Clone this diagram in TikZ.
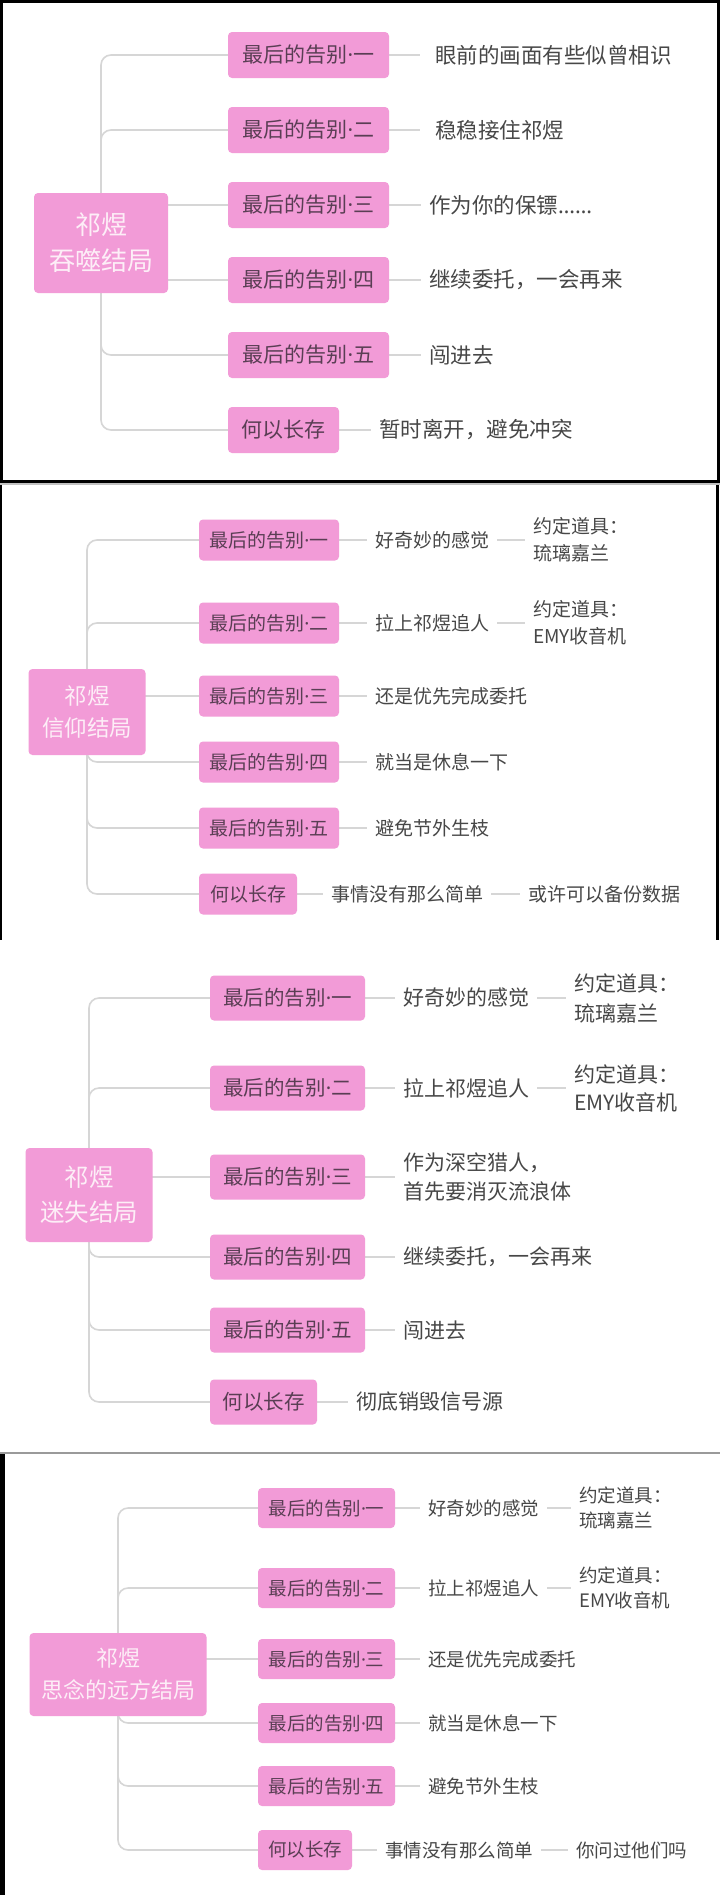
\documentclass[tikz,border=0pt]{standalone}
\usepackage{fontspec}
\setmainfont{Noto Sans CJK SC}
\newfontfamily\latf{Noto Sans}
\newcommand{\mydotx}{{\latf ·}}
\definecolor{pk}{HTML}{F29BD7}
\definecolor{btxt}{HTML}{5A3E54}
\definecolor{ltxt}{HTML}{474747}
\definecolor{lgray}{HTML}{D6D6D6}
\definecolor{rtxt}{HTML}{FDEEF7}
\definecolor{sepgray}{HTML}{9A9A9A}
\pgfdeclarelayer{bg}
\pgfsetlayers{bg,main}
\begin{document}
\begin{tikzpicture}[x=1pt,y=-1pt,
  rootbox/.style={fill=pk, rounded corners=4pt, text=rtxt, align=center, inner sep=0pt},
  brbox/.style={fill=pk, rounded corners=4pt, text=btxt, inner sep=0pt},
  leaf/.style={text=ltxt, anchor=west, align=left, inner xsep=8pt, inner ysep=0pt},
  ln/.style={draw=lgray, line width=1.6pt},
  trunk/.style={ln, rounded corners=10pt},
  fa/.style={font=\fontsize{21}{26}\selectfont},
  fal/.style={font=\fontsize{21.5}{28}\selectfont},
  fb/.style={font=\fontsize{19}{27}\selectfont},
  fc/.style={font=\fontsize{20.5}{28}\selectfont},
  fcl/.style={font=\fontsize{21}{29}\selectfont},
  fd/.style={font=\fontsize{18.5}{25.5}\selectfont}]
\useasboundingbox (0,0) rectangle (720,1895);
\begin{pgfonlayer}{bg}
\fill[white] (0,0) rectangle (720,1895);
\end{pgfonlayer}

% ---------- Panel 1 ----------
\node[rootbox, minimum width=134pt, minimum height=100pt, font=\fontsize{26}{36}\selectfont] (p1r) at (101,243) {祁煜\\吞噬结局};
\node[brbox, fa, minimum width=161pt, minimum height=46pt] (p1b1) at (308.5,55) {最后的告别\mydotx 一};
\node[brbox, fa, minimum width=161pt, minimum height=46pt] (p1b2) at (308.5,130) {最后的告别\mydotx 二};
\node[brbox, fa, minimum width=161pt, minimum height=46pt] (p1b3) at (308.5,205) {最后的告别\mydotx 三};
\node[brbox, fa, minimum width=161pt, minimum height=46pt] (p1b4) at (308.5,280) {最后的告别\mydotx 四};
\node[brbox, fa, minimum width=161pt, minimum height=46pt] (p1b5) at (308.5,355) {最后的告别\mydotx 五};
\node[brbox, fa, minimum width=111pt, minimum height=46pt] (p1b6) at (283.5,430) {何以长存};
\node[leaf, fal, inner xsep=15pt] (p1l1) at (420,55) {眼前的画面有些似曾相识};
\node[leaf, fal, inner xsep=15pt] (p1l2) at (420,130) {稳稳接住祁煜};
\node[leaf, fal] (p1l3) at (421,205) {作为你的保镖{\latf ……}};
\node[leaf, fal] (p1l4) at (421,280) {继续委托，一会再来};
\node[leaf, fal] (p1l5) at (421,355) {闯进去};
\node[leaf, fal] (p1l6) at (371,430) {暂时离开，避免冲突};

% ---------- Panel 2 ----------
\node[rootbox, minimum width=117pt, minimum height=86pt, font=\fontsize{22.5}{32}\selectfont] (p2r) at (87,712) {祁煜\\信仰结局};
\node[brbox, fb, minimum width=140pt, minimum height=41pt] (p2b1) at (269,540) {最后的告别\mydotx 一};
\node[brbox, fb, minimum width=140pt, minimum height=41pt] (p2b2) at (269,623) {最后的告别\mydotx 二};
\node[brbox, fb, minimum width=140pt, minimum height=41pt] (p2b3) at (269,696) {最后的告别\mydotx 三};
\node[brbox, fb, minimum width=140pt, minimum height=41pt] (p2b4) at (269,762) {最后的告别\mydotx 四};
\node[brbox, fb, minimum width=140pt, minimum height=41pt] (p2b5) at (269,828) {最后的告别\mydotx 五};
\node[brbox, fb, minimum width=98pt, minimum height=41pt] (p2b6) at (248,894) {何以长存};
\node[leaf, fb] (p2l1) at (367,540) {好奇妙的感觉};
\node[leaf, fb] (p2m1) at (525,540) {约定道具：\\琉璃嘉兰};
\node[leaf, fb] (p2l2) at (367,623) {拉上祁煜追人};
\node[leaf, fb] (p2m2) at (525,623) {约定道具：\\EMY收音机};
\node[leaf, fb] (p2l3) at (367,696) {还是优先完成委托};
\node[leaf, fb] (p2l4) at (367,762) {就当是休息一下};
\node[leaf, fb] (p2l5) at (367,828) {避免节外生枝};
\node[leaf, fb] (p2l6) at (323,894) {事情没有那么简单};
\node[leaf, fb] (p2m6) at (520,894) {或许可以备份数据};

% ---------- Panel 3 ----------
\node[rootbox, minimum width=127pt, minimum height=94pt, font=\fontsize{24.5}{35}\selectfont] (p3r) at (89,1195) {祁煜\\迷失结局};
\node[brbox, fc, minimum width=155pt, minimum height=45pt] (p3b1) at (287.5,998) {最后的告别\mydotx 一};
\node[brbox, fc, minimum width=155pt, minimum height=45pt] (p3b2) at (287.5,1088) {最后的告别\mydotx 二};
\node[brbox, fc, minimum width=155pt, minimum height=45pt] (p3b3) at (287.5,1177) {最后的告别\mydotx 三};
\node[brbox, fc, minimum width=155pt, minimum height=45pt] (p3b4) at (287.5,1257) {最后的告别\mydotx 四};
\node[brbox, fc, minimum width=155pt, minimum height=45pt] (p3b5) at (287.5,1330) {最后的告别\mydotx 五};
\node[brbox, fc, minimum width=107pt, minimum height=45pt] (p3b6) at (263.5,1402) {何以长存};
\node[leaf, fcl] (p3l1) at (395,998) {好奇妙的感觉};
\node[leaf, fcl, font=\fontsize{21}{30}\selectfont] (p3m1) at (566,998) {约定道具：\\琉璃嘉兰};
\node[leaf, fcl] (p3l2) at (395,1088) {拉上祁煜追人};
\node[leaf, fcl, font=\fontsize{21}{28}\selectfont] (p3m2) at (566,1088) {约定道具：\\EMY收音机};
\node[leaf, fcl] (p3l3) at (395,1177) {作为深空猎人，\\首先要消灭流浪体};
\node[leaf, fcl] (p3l4) at (395,1257) {继续委托，一会再来};
\node[leaf, fcl] (p3l5) at (395,1330) {闯进去};
\node[leaf, fcl] (p3l6) at (348,1402) {彻底销毁信号源};

% ---------- Panel 4 ----------
\node[rootbox, minimum width=177pt, minimum height=83pt, font=\fontsize{22}{32}\selectfont] (p4r) at (118,1674.5) {祁煜\\思念的远方结局};
\node[brbox, fd, minimum width=137pt, minimum height=40pt] (p4b1) at (326.5,1508) {最后的告别\mydotx 一};
\node[brbox, fd, minimum width=137pt, minimum height=40pt] (p4b2) at (326.5,1588) {最后的告别\mydotx 二};
\node[brbox, fd, minimum width=137pt, minimum height=40pt] (p4b3) at (326.5,1659) {最后的告别\mydotx 三};
\node[brbox, fd, minimum width=137pt, minimum height=40pt] (p4b4) at (326.5,1723) {最后的告别\mydotx 四};
\node[brbox, fd, minimum width=137pt, minimum height=40pt] (p4b5) at (326.5,1786) {最后的告别\mydotx 五};
\node[brbox, fd, minimum width=94pt, minimum height=40pt] (p4b6) at (305,1850) {何以长存};
\node[leaf, fd] (p4l1) at (420,1508) {好奇妙的感觉};
\node[leaf, fd] (p4m1) at (571,1508) {约定道具：\\琉璃嘉兰};
\node[leaf, fd] (p4l2) at (420,1588) {拉上祁煜追人};
\node[leaf, fd] (p4m2) at (571,1588) {约定道具：\\EMY收音机};
\node[leaf, fd] (p4l3) at (420,1659) {还是优先完成委托};
\node[leaf, fd] (p4l4) at (420,1723) {就当是休息一下};
\node[leaf, fd] (p4l5) at (420,1786) {避免节外生枝};
\node[leaf, fd] (p4l6) at (377,1850) {事情没有那么简单};
\node[leaf, fd] (p4m6) at (568,1850) {你问过他们吗};

% ---------- connectors ----------
\begin{pgfonlayer}{bg}
\foreach \p in {1,2,3,4}{
  \foreach \i in {1,...,6}{
    \draw[trunk] (p\p r.center) |- (p\p b\i.west);
    \draw[ln] (p\p b\i.east) -- (p\p l\i.west);
  }
}
\draw[ln] (p2l1.east) -- (p2m1.west);
\draw[ln] (p2l2.east) -- (p2m2.west);
\draw[ln] (p2l6.east) -- (p2m6.west);
\draw[ln] (p3l1.east) -- (p3m1.west);
\draw[ln] (p3l2.east) -- (p3m2.west);
\draw[ln] (p4l1.east) -- (p4m1.west);
\draw[ln] (p4l2.east) -- (p4m2.west);
\draw[ln] (p4l6.east) -- (p4m6.west);
\end{pgfonlayer}

% ---------- screenshot frames ----------
\draw[black, line width=3pt] (1.5,1.5) rectangle (718.5,481);
\draw[sepgray!60, line width=1.5pt] (0,484) -- (720,484);
\draw[black, line width=2pt] (1,485) -- (1,940);
\draw[black, line width=2.5pt] (717.5,485) -- (717.5,940);
\draw[sepgray, line width=2pt] (0,1453) -- (720,1453);
\draw[black, line width=5pt] (2.5,1454) -- (2.5,1895);
\end{tikzpicture}
\end{document}
